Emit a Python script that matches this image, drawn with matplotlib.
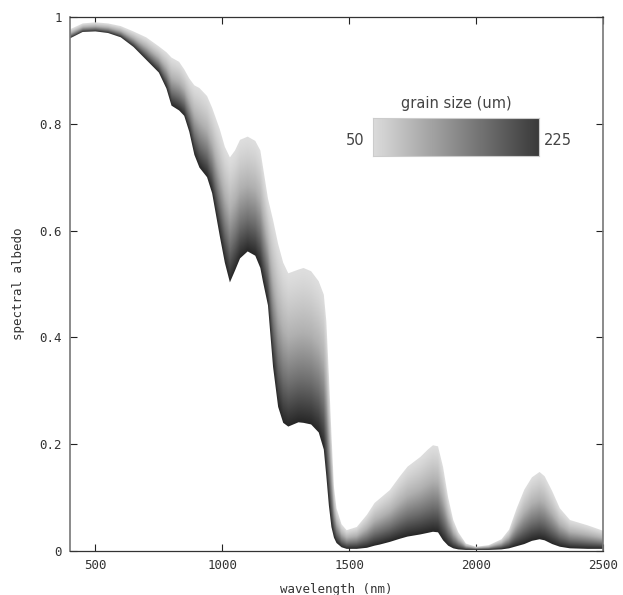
import numpy as np
import matplotlib
matplotlib.use("Agg")
import matplotlib.pyplot as plt
from matplotlib.colors import LinearSegmentedColormap

# ---- data ----
wavelength = [400, 450, 500, 550, 600, 650, 700, 750, 780, 800, 830, 850, 870, 890,
              910, 940, 960, 990, 1010, 1030, 1050, 1070, 1100, 1130, 1150, 1160,
              1180, 1200, 1220, 1240, 1260, 1300, 1320, 1350, 1380, 1400, 1410, 1420,
              1430, 1440, 1450, 1470, 1490, 1530, 1570, 1600, 1620, 1660, 1700, 1730,
              1780, 1810, 1830, 1850, 1870, 1890, 1910, 1930, 1960, 2000, 2050, 2100,
              2130, 2160, 2190, 2220, 2250, 2270, 2300, 2330, 2370, 2440, 2500]

albedo_50um = [0.977, 0.988, 0.990, 0.988, 0.983, 0.973, 0.962, 0.945, 0.934, 0.924,
               0.916, 0.902, 0.885, 0.872, 0.867, 0.852, 0.830, 0.790, 0.757, 0.737,
               0.750, 0.770, 0.776, 0.768, 0.750, 0.720, 0.660, 0.620, 0.575, 0.540,
               0.520, 0.527, 0.530, 0.524, 0.505, 0.480, 0.430, 0.330, 0.220, 0.120,
               0.080, 0.050, 0.039, 0.045, 0.068, 0.090, 0.098, 0.114, 0.140, 0.158,
               0.176, 0.190, 0.198, 0.196, 0.157, 0.100, 0.058, 0.035, 0.014, 0.008,
               0.011, 0.022, 0.040, 0.080, 0.115, 0.138, 0.148, 0.140, 0.112, 0.080,
               0.058, 0.048, 0.038]

albedo_225um = [0.960, 0.972, 0.973, 0.970, 0.962, 0.944, 0.920, 0.896, 0.866, 0.834,
                0.825, 0.815, 0.785, 0.742, 0.718, 0.700, 0.670, 0.590, 0.540, 0.503,
                0.525, 0.548, 0.561, 0.553, 0.530, 0.505, 0.460, 0.345, 0.270, 0.240,
                0.233, 0.241, 0.240, 0.237, 0.222, 0.190, 0.140, 0.085, 0.045, 0.025,
                0.015, 0.007, 0.004, 0.004, 0.006, 0.010, 0.012, 0.017, 0.023, 0.027,
                0.031, 0.034, 0.036, 0.035, 0.020, 0.010, 0.005, 0.003, 0.002, 0.002,
                0.002, 0.003, 0.005, 0.009, 0.013, 0.019, 0.022, 0.020, 0.013, 0.008,
                0.005, 0.004, 0.004]

grain_min, grain_max = 50, 225
x_ticks = [500, 1000, 1500, 2000, 2500]
y_ticks = [0, 0.2, 0.4, 0.6, 0.8, 1]
y_tick_labels = ["0", "0.2", "0.4", "0.6", "0.8", "1"]

# ---- figure ----
fig = plt.figure(figsize=(6.23, 5.95), dpi=100)
ax = fig.add_axes([70 / 623, 44 / 595, 533 / 623, 534 / 595])

cmap = LinearSegmentedColormap.from_list("grain", ["#dedede", "#b0b0b0", "#6e6e6e", "#262626"])

wl = np.asarray(wavelength, float)
top = np.asarray(albedo_50um, float)
bot = np.asarray(albedo_225um, float)

poly = ax.fill_between(wl, bot, top, facecolor="none", edgecolor="none")

# gradient shading between the 50 um and 225 um curves
gx = np.linspace(400, 2500, 1400)
gy = np.linspace(0, 1, 1400)
T = np.interp(gx, wl, top)
B = np.interp(gx, wl, bot)
GY = gy[:, None]
frac = np.clip((T[None, :] - GY) / np.maximum(T - B, 1e-6)[None, :], 0, 1)
shade = frac ** 1.25
im = ax.imshow(shade, extent=[400, 2500, 0, 1], origin="lower", aspect="auto",
               cmap=cmap, vmin=0, vmax=1, interpolation="bilinear", zorder=2)
for p in poly.get_paths():
    im.set_clip_path(p, transform=ax.transData)

ax.set_xlim(400, 2500)
ax.set_ylim(0, 1)
ax.set_xticks(x_ticks)
ax.set_yticks(y_ticks)
ax.set_yticklabels(y_tick_labels)
mono = "DejaVu Sans Mono"
ax.tick_params(direction="in", length=5, width=0.8, top=True, right=True,
               labelsize=9, labelcolor="#333333", color="#222222", pad=6)
for lab in ax.get_xticklabels() + ax.get_yticklabels():
    lab.set_family(mono)
for s in ["left", "right"]:
    ax.spines[s].set_color("#777777")
    ax.spines[s].set_linewidth(1.2)
for s in ["top", "bottom"]:
    ax.spines[s].set_color("#333333")
    ax.spines[s].set_linewidth(0.9)

ax.set_xlabel("wavelength (nm)", family=mono, fontsize=9, color="#333333", labelpad=8)
ax.set_ylabel("spectral albedo", family=mono, fontsize=9, color="#333333", labelpad=10)

# colour bar key
cax = fig.add_axes([373 / 623, (595 - 156) / 595, 166 / 623, 38 / 595])
grad = np.linspace(0, 1, 256)[None, :]
cax.imshow(grad, cmap=LinearSegmentedColormap.from_list("cb", ["#dcdcdc", "#3a3a3a"]),
           aspect="auto", extent=[grain_min, grain_max, 0, 1])
cax.set_xticks([])
cax.set_yticks([])
for s in cax.spines.values():
    s.set_color("#cccccc")
    s.set_linewidth(0.8)
fig.text(456 / 623, 1 - 103 / 595, "grain size (um)", ha="center", va="center",
         fontsize=10.5, color="#444444", family="DejaVu Sans")
fig.text(355 / 623, 1 - 140 / 595, str(grain_min), ha="center", va="center",
         fontsize=10.5, color="#444444", family="DejaVu Sans")
fig.text(558 / 623, 1 - 140 / 595, str(grain_max), ha="center", va="center",
         fontsize=10.5, color="#444444", family="DejaVu Sans")

fig.savefig("out.png", dpi=100)
